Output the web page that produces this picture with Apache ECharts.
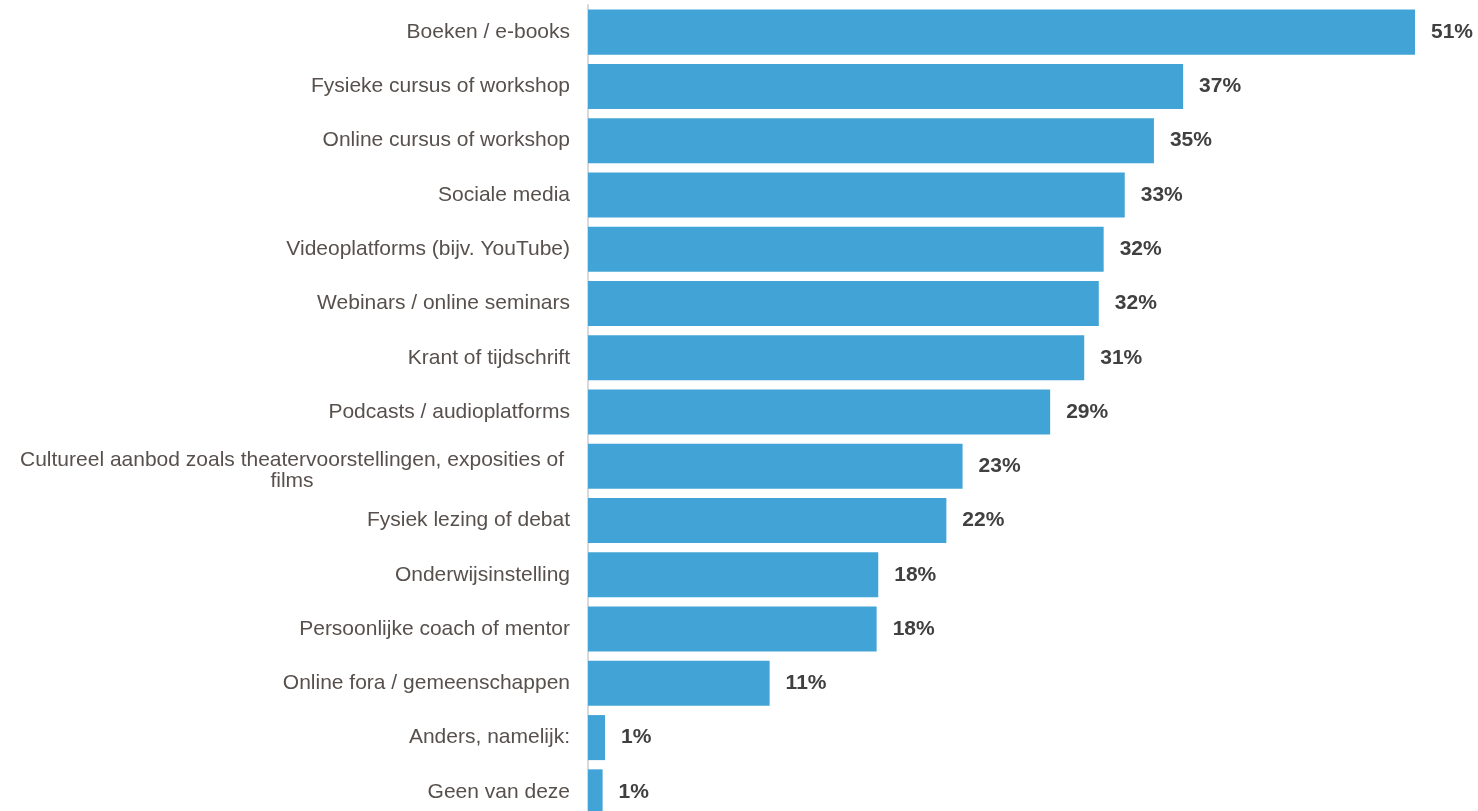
<!DOCTYPE html>
<html>
<head>
<meta charset="utf-8">
<script src="https://cdn.jsdelivr.net/npm/echarts@6/dist/echarts.min.js"></script>
<style>html,body{margin:0;padding:0;background:#fff}#c{width:1478px;height:811px}</style>
</head>
<body>
<div id="c"></div>
<script>
const categories = [
  "Boeken / e-books",
  "Fysieke cursus of workshop",
  "Online cursus of workshop",
  "Sociale media",
  "Videoplatforms (bijv. YouTube)",
  "Webinars / online seminars",
  "Krant of tijdschrift",
  "Podcasts / audioplatforms",
  "Cultureel aanbod zoals theatervoorstellingen, exposities of films",
  "Fysiek lezing of debat",
  "Onderwijsinstelling",
  "Persoonlijke coach of mentor",
  "Online fora / gemeenschappen",
  "Anders, namelijk:",
  "Geen van deze"
];
const values = [51, 36.7, 34.9, 33.1, 31.8, 31.5, 30.6, 28.5, 23.1, 22.1, 17.9, 17.8, 11.2, 1.05, 0.9];

const FONT = 'Liberation Sans, Arial, sans-serif';
const isLong = v => v.length > 50;
const chart = echarts.init(document.getElementById('c'), null, {renderer: 'canvas'});
chart.setOption({
  animation: false,
  grid: {left: 588, right: 63, top: 5, bottom: -8, containLabel: false, outerBoundsMode: 'none'},
  xAxis: {
    type: 'value', min: 0, max: 51, show: false
  },
  yAxis: {
    type: 'category',
    data: categories.map(c => isLong(c) ? {value: c, textStyle: {padding: [8, 0, 0, 0]}} : c),
    inverse: true,
    axisLine: {show: true, lineStyle: {color: '#d9d9d9', width: 2}},
    axisTick: {show: false},
    axisLabel: {
      margin: 18,
      color: '#57504d',
      fontFamily: FONT,
      fontSize: 21,
      formatter: function (v) {
        if (isLong(v)) {
          const i = v.lastIndexOf(' films');
          return '{c|' + v.slice(0, i) + '}\n{c|' + v.slice(i + 1) + '}';
        }
        return v;
      },
      rich: {
        c: {width: 556, align: 'center', lineHeight: 21, color: '#57504d',
            fontFamily: FONT, fontSize: 21}
      }
    }
  },
  series: [{
    type: 'bar',
    data: values,
    barCategoryGap: '17%',
    itemStyle: {color: '#42a3d6'},
    label: {
      show: true, position: 'right', distance: 16,
      color: '#404040', fontWeight: 'bold', fontSize: 21,
      fontFamily: FONT,
      formatter: p => Math.round(p.value) + '%'
    }
  }]
});
</script>
</body>
</html>
